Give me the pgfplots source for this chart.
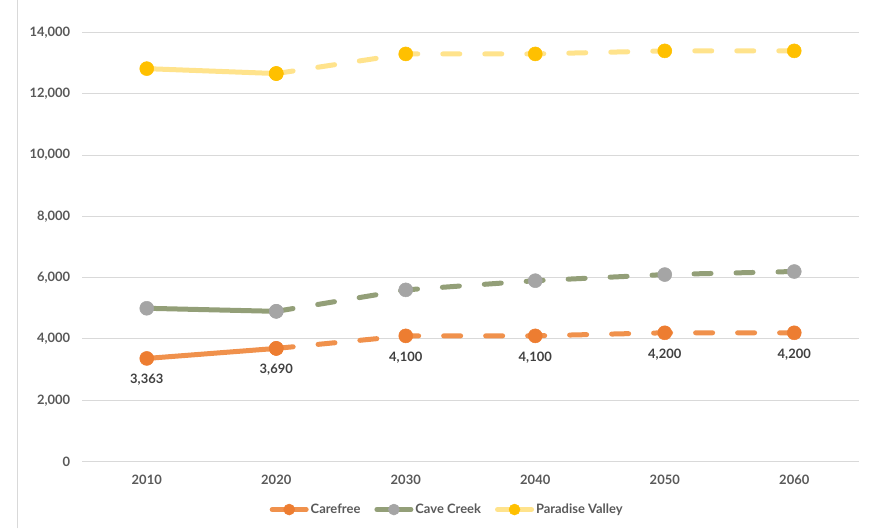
\documentclass[border=0pt]{standalone}
\usepackage{fontspec}
\setmainfont{Lato}[BoldFont={Lato Bold}]
\usepackage{pgfplots}
\pgfplotsset{compat=1.18}

\definecolor{cfLine}{HTML}{F0914C}
\definecolor{cfMark}{HTML}{ED7D31}
\definecolor{ccLine}{HTML}{939F78}
\definecolor{ccMark}{HTML}{A5A5A5}
\definecolor{pvLine}{HTML}{FFE38C}
\definecolor{pvMark}{HTML}{FFC000}
\definecolor{gridgray}{HTML}{D9D9D9}
\definecolor{txt}{HTML}{595959}

\begin{document}
\begin{tikzpicture}[x=1bp,y=1bp]
\path (0,0) rectangle (875,528);
\draw[gridgray, line width=1bp] (17.5,0) -- (17.5,528);
\begin{axis}[
  at={(82bp,67bp)}, anchor=south west,
  scale only axis, width=777bp, height=429bp,
  xmin=-0.5, xmax=5.5, ymin=0, ymax=14000,
  xtick={0,...,5},
  xticklabels={2010,2020,2030,2040,2050,2060},
  ytick={0,2000,...,14000},
  scaled y ticks=false,
  /pgf/number format/1000 sep={,},
  /pgf/number format/assume math mode=true,
  ymajorgrids,
  major grid style={gridgray, line width=1bp},
  axis line style={draw=none},
  major tick length=0pt,
  tick label style={font=\bfseries\fontsize{13}{15}\selectfont, text=txt},
  yticklabel style={xshift=-6bp},
  xticklabel style={yshift=-8bp},
  line width=5bp,
  mark size=7bp,
  legend columns=3,
  legend style={at={(0.47,-0.112)}, anchor=center, draw=none, fill=none,
    font=\bfseries\fontsize{13}{15}\selectfont, text=txt,
    /tikz/every even column/.append style={column sep=12bp}},
  legend image code/.code={
    \draw[mark repeat=2,mark phase=2,mark size=5.5bp] plot coordinates {(0bp,0bp) (17bp,0bp) (34bp,0bp)};
  },
  dashed part/.style={dash pattern=on 17bp off 25bp, line cap=round},
]
% Carefree
\addplot[cfLine, line cap=round, mark=*, mark options={solid, line width=0.5bp, fill=cfMark, draw=cfMark}]
  coordinates {(0,3363) (1,3690)};
\addlegendentry{Carefree}
\addplot[cfLine, dashed part, mark=*, mark options={solid, line width=0.5bp, fill=cfMark, draw=cfMark}, forget plot]
  coordinates {(1,3690) (2,4100) (3,4100) (4,4200) (5,4200)};
\addplot[draw=none, forget plot, nodes near coords,
  every node near coord/.append style={anchor=north, yshift=-10bp, text=black!75,
    font=\bfseries\fontsize{13}{15}\selectfont}]
  coordinates {(0,3363) (1,3690) (2,4100) (3,4100) (4,4200) (5,4200)};
% Cave Creek
\addplot[ccLine, line cap=round, mark=*, mark options={solid, line width=0.5bp, fill=ccMark, draw=ccMark}]
  coordinates {(0,5000) (1,4900)};
\addlegendentry{Cave Creek}
\addplot[ccLine, dashed part, mark=*, mark options={solid, line width=0.5bp, fill=ccMark, draw=ccMark}, forget plot]
  coordinates {(1,4900) (2,5600) (3,5900) (4,6100) (5,6200)};
% Paradise Valley
\addplot[pvLine, line cap=round, mark=*, mark options={solid, line width=0.5bp, fill=pvMark, draw=pvMark}]
  coordinates {(0,12820) (1,12660)};
\addlegendentry{Paradise Valley}
\addplot[pvLine, dashed part, mark=*, mark options={solid, line width=0.5bp, fill=pvMark, draw=pvMark}, forget plot]
  coordinates {(1,12660) (2,13300) (3,13300) (4,13400) (5,13400)};
\end{axis}
\end{tikzpicture}
\end{document}
